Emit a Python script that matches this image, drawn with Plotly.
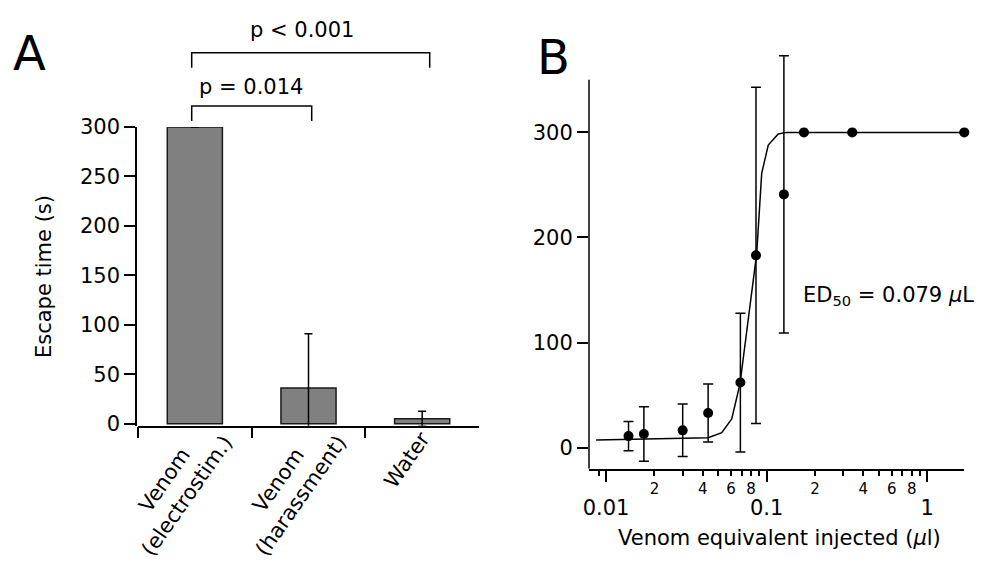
"""
Two-panel figure: escape time by treatment (A) and dose-response of
venom equivalent injected (B).
"""
import math

import plotly.graph_objects as go

# ---- Panel A data -----------------------------------------------------
categories = ["Venom (electrostim.)", "Venom (harassment)", "Water"]
category_labels = ["Venom<br>(electrostim.)", "Venom<br>(harassment)", "Water"]
escape_mean = [300, 36, 5]
escape_sd = [None, 55, 7.5]   # no error bar on the capped 300 s group

# ---- Panel B data -----------------------------------------------------
dose = [0.0138, 0.0172, 0.030, 0.0432, 0.0686, 0.0858, 0.128, 0.1706, 0.341, 1.70]
response = [11, 13, 16.5, 33, 62, 183, 241, 300, 300, 300]
response_sd = [14, 26, 25, 27.5, 66, 160, 132, None, None, None]

# fitted curve
fit_dose = [0.00867, 0.0367, 0.0433, 0.0525, 0.0606, 0.0682, 0.0867,
            0.0931, 0.1023, 0.118, 0.133, 1.70]
fit_response = [7.3, 8.9, 9.5, 14.3, 27.3, 60.6, 185, 261, 288, 298.5, 300, 300]

major_ticks = [0.01, 0.1, 1]
major_labels = ["0.01", "0.1", "1"]
minor_ticks = [0.009, 0.02, 0.03, 0.04, 0.05, 0.06, 0.07, 0.08, 0.09,
               0.2, 0.3, 0.4, 0.5, 0.6, 0.7, 0.8, 0.9]
minor_labels = ["", "2", "", "4", "", "6", "", "8", "",
                "2", "", "4", "", "6", "", "8", ""]

FONT = "DejaVu Sans"
INK = "black"
W, H = 1000, 571
B_RANGE = [math.log10(0.00783), math.log10(1.70)]


def px_x(v):
    return v / W


def px_y(v):
    return 1 - v / H


fig = go.Figure()

fig.add_trace(go.Bar(
    x=categories, y=escape_mean, width=0.485,
    marker=dict(color="#808080", line=dict(color="#1a1a1a", width=1.5)),
    error_y=dict(type="data", array=escape_sd, color=INK, thickness=1.5, width=4),
    xaxis="x", yaxis="y", showlegend=False,
))

# fit line lives on x3 (same range as x2) so the major-tick axis gets drawn
fig.add_trace(go.Scatter(
    x=fit_dose, y=fit_response, mode="lines",
    line=dict(color=INK, width=1.5),
    xaxis="x3", yaxis="y2", showlegend=False,
))
fig.add_trace(go.Scatter(
    x=dose, y=response, mode="markers",
    marker=dict(color=INK, size=10),
    error_y=dict(type="data", array=response_sd, color=INK, thickness=1.5, width=5),
    cliponaxis=False,
    xaxis="x2", yaxis="y2", showlegend=False,
))

axis_common = dict(
    showgrid=False, zeroline=False, showline=True, linecolor=INK, linewidth=1.5,
    ticks="outside", tickcolor=INK, tickwidth=1.5, automargin=False,
    tickfont=dict(family=FONT, size=21, color=INK),
)

fig.update_layout(
    width=W, height=H,
    margin=dict(l=0, r=0, t=0, b=0),
    paper_bgcolor="white", plot_bgcolor="white",
    font=dict(family=FONT, size=21, color=INK),
    xaxis=dict(
        **axis_common, domain=[px_x(138), px_x(479)], range=[-0.5, 2.5],
        anchor="y", tickson="boundaries", ticklen=11, showticklabels=False,
    ),
    yaxis=dict(
        **axis_common, domain=[px_y(425.7), px_y(127)], range=[-2, 300],
        anchor="free", position=px_x(136), tickvals=[0, 50, 100, 150, 200, 250, 300],
        ticklen=11,
    ),
    xaxis2=dict(
        **{**axis_common, "tickfont": dict(family=FONT, size=15, color=INK)},
        type="log", domain=[px_x(589), px_x(964.3)], range=B_RANGE,
        anchor="y2", tickvals=minor_ticks, ticktext=minor_labels, ticklen=6,
    ),
    xaxis3=dict(
        **{**axis_common, "showline": False},
        type="log", overlaying="x2", anchor="y2", side="bottom", range=B_RANGE,
        tickvals=major_ticks, ticktext=major_labels, ticklen=12,
        ticklabelstandoff=8,
    ),
    # range runs past 350 so the tall error bar is not clipped;
    # the visible axis line is drawn as a shape up to 350
    yaxis2=dict(
        **{**axis_common, "showline": False},
        domain=[px_y(468.7), px_y(48.3)], range=[-20, 380],
        anchor="x2", tickvals=[0, 100, 200, 300], ticklen=11,
    ),
)

fig.add_shape(type="line", xref="paper", yref="y2",
              x0=px_x(589), x1=px_x(589), y0=-20, y1=350,
              line=dict(color=INK, width=1.5))

# ---- significance brackets (panel A) ----------------------------------
brackets = [(191.7, 311.7, 121, 106, "p = 0.014", 250.8, 87),
            (191.7, 429.7, 67.7, 52.7, "p &lt; 0.001", 301.7, 30)]
for x0, x1, ylo, yhi, label, tx, ty in brackets:
    fig.add_shape(type="path", xref="paper", yref="paper",
                  path=(f"M{px_x(x0)},{px_y(ylo)} L{px_x(x0)},{px_y(yhi)} "
                        f"L{px_x(x1)},{px_y(yhi)} L{px_x(x1)},{px_y(ylo)}"),
                  line=dict(color=INK, width=1.5))
    fig.add_annotation(x=px_x(tx), y=px_y(ty), xref="paper", yref="paper",
                       xanchor="center", yanchor="middle",
                       text=label, showarrow=False, font=dict(size=21))

# ---- rotated category labels -------------------------------------------
for label, cx, cy in zip(category_labels, [175, 289, 407], [488, 488, 460]):
    fig.add_annotation(x=px_x(cx), y=px_y(cy), xref="paper", yref="paper",
                       xanchor="center", yanchor="middle", textangle=-55,
                       text=label, showarrow=False, font=dict(size=21))

# ---- labels -------------------------------------------------------------
fig.add_annotation(x=px_x(11), y=px_y(53), xref="paper", yref="paper",
                   xanchor="left", yanchor="middle", text="A", showarrow=False,
                   font=dict(size=48))
fig.add_annotation(x=px_x(535), y=px_y(57), xref="paper", yref="paper",
                   xanchor="left", yanchor="middle", text="B", showarrow=False,
                   font=dict(size=48))
fig.add_annotation(x=px_x(44), y=px_y(277), xref="paper", yref="paper",
                   xanchor="center", yanchor="middle",
                   text="Escape time (s)", textangle=-90, showarrow=False,
                   font=dict(size=21))
fig.add_annotation(x=px_x(779), y=px_y(538), xref="paper", yref="paper",
                   xanchor="center", yanchor="middle",
                   text="Venom equivalent injected (<i>µ</i>l)", showarrow=False,
                   font=dict(size=21))
fig.add_annotation(x=px_x(801), y=px_y(296), xref="paper", yref="paper",
                   xanchor="left", yanchor="middle",
                   text="ED<sub>50</sub> = 0.079 <i>µ</i>L",
                   showarrow=False, font=dict(size=21))

# browser default body margin would shift the whole figure by 8px
fig.write_html("out.html", config={"displayModeBar": False},
               post_script="document.body.style.margin='0';")
